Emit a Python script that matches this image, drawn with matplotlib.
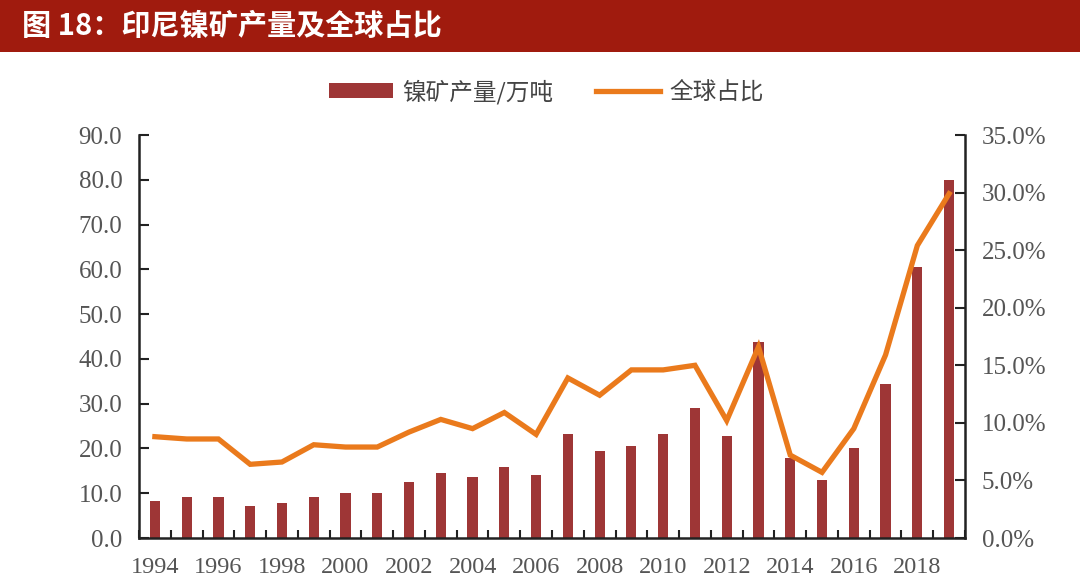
import matplotlib
matplotlib.use("Agg")
import matplotlib.pyplot as plt
from matplotlib.patches import Rectangle
from matplotlib.lines import Line2D
from matplotlib.patches import Patch
import numpy as np

years = list(range(1994, 2020))
production = [8.2, 9.1, 9.1, 7.1, 7.8, 9.1, 10.0, 10.0, 12.5, 14.5, 13.6, 15.8, 14.0,
              23.2, 19.4, 20.5, 23.2, 29.0, 22.7, 43.8, 17.8, 12.9, 20.0, 34.3, 60.6, 80.0]
share = [8.8, 8.6, 8.6, 6.4, 6.6, 8.1, 7.9, 7.9, 9.2, 10.3, 9.5, 10.9, 9.0,
         13.9, 12.4, 14.6, 14.6, 15.0, 10.2, 16.6, 7.2, 5.7, 9.5, 15.9, 25.4, 29.9]
left_ticks = [0, 10, 20, 30, 40, 50, 60, 70, 80, 90]
right_ticks = [0, 5, 10, 15, 20, 25, 30, 35]

title = "图 18：印尼镍矿产量及全球占比"
bar_label = "镍矿产量/万吨"
line_label = "全球占比"

cjk = ['Noto Sans CJK SC', 'DejaVu Sans']
serif = ['Liberation Serif', 'DejaVu Serif']
bar_color = '#9E3636'
line_color = '#EA7A1C'
tick_color = '#555555'

fig = plt.figure(figsize=(10.8, 5.78), dpi=100)
fig.patch.set_facecolor('white')

# Title band
fig.patches.append(Rectangle((0.0, 0.91), 1.0, 0.09, transform=fig.transFigure,
                             facecolor='#A01B0E', edgecolor='none', zorder=0))
fig.text(0.02, 0.955, title, color='white', fontsize=21, fontweight='bold',
         family=cjk, va='center', ha='left')

ax = fig.add_axes([0.1287, 0.0692, 0.7648, 0.6972])
x = np.arange(len(years))
ax.bar(x, production, width=0.32, color=bar_color, zorder=2)
ax.set_xlim(-0.5, len(years) - 0.5)
ax.set_ylim(0, 90)
ax.set_yticks(left_ticks)
ax.set_yticklabels([f"{v:.1f}" for v in left_ticks], family=serif, fontsize=18, color=tick_color)
ax.set_xticks(x[::2])
ax.set_xticklabels([str(y) for y in years[::2]], family=serif, fontsize=17.5, color=tick_color)
ax.set_xticks(np.arange(-0.5, len(years), 1.0), minor=True)
ax.tick_params(axis='x', which='major', length=0, pad=14)
ax.tick_params(axis='x', which='minor', direction='in', length=6, width=1.5, color='#222222')
ax.tick_params(axis='y', direction='in', length=7, width=1.5, color='#222222', pad=12)
for s in ['top', 'right']:
    ax.spines[s].set_visible(False)
for s in ['left', 'bottom']:
    ax.spines[s].set_linewidth(1.8)
    ax.spines[s].set_color('#222222')

ax2 = ax.twinx()
ax2.plot(x, share, color=line_color, linewidth=3.8, zorder=3, solid_joinstyle='miter')
ax2.set_ylim(0, 35)
ax2.set_yticks(right_ticks)
ax2.set_yticklabels([f"{v:.1f}%" for v in right_ticks], family=serif, fontsize=18, color=tick_color)
ax2.tick_params(axis='y', direction='in', length=7, width=1.5, color='#222222', pad=12)
for s in ['top', 'left', 'bottom']:
    ax2.spines[s].set_visible(False)
ax2.spines['right'].set_linewidth(1.8)
ax2.spines['right'].set_color('#222222')

handles = [Patch(facecolor=bar_color, edgecolor='none'),
           Line2D([0], [0], color=line_color, linewidth=3.8)]
leg = fig.legend(handles, [bar_label, line_label], loc='center', bbox_to_anchor=(0.506, 0.841),
                 ncol=2, frameon=False, prop={'family': cjk, 'size': 17},
                 handlelength=2.7, handleheight=0.6, columnspacing=1.8, handletextpad=0.4)
for t in leg.get_texts():
    t.set_color('#444444')

fig.savefig('out.png', dpi=100)
